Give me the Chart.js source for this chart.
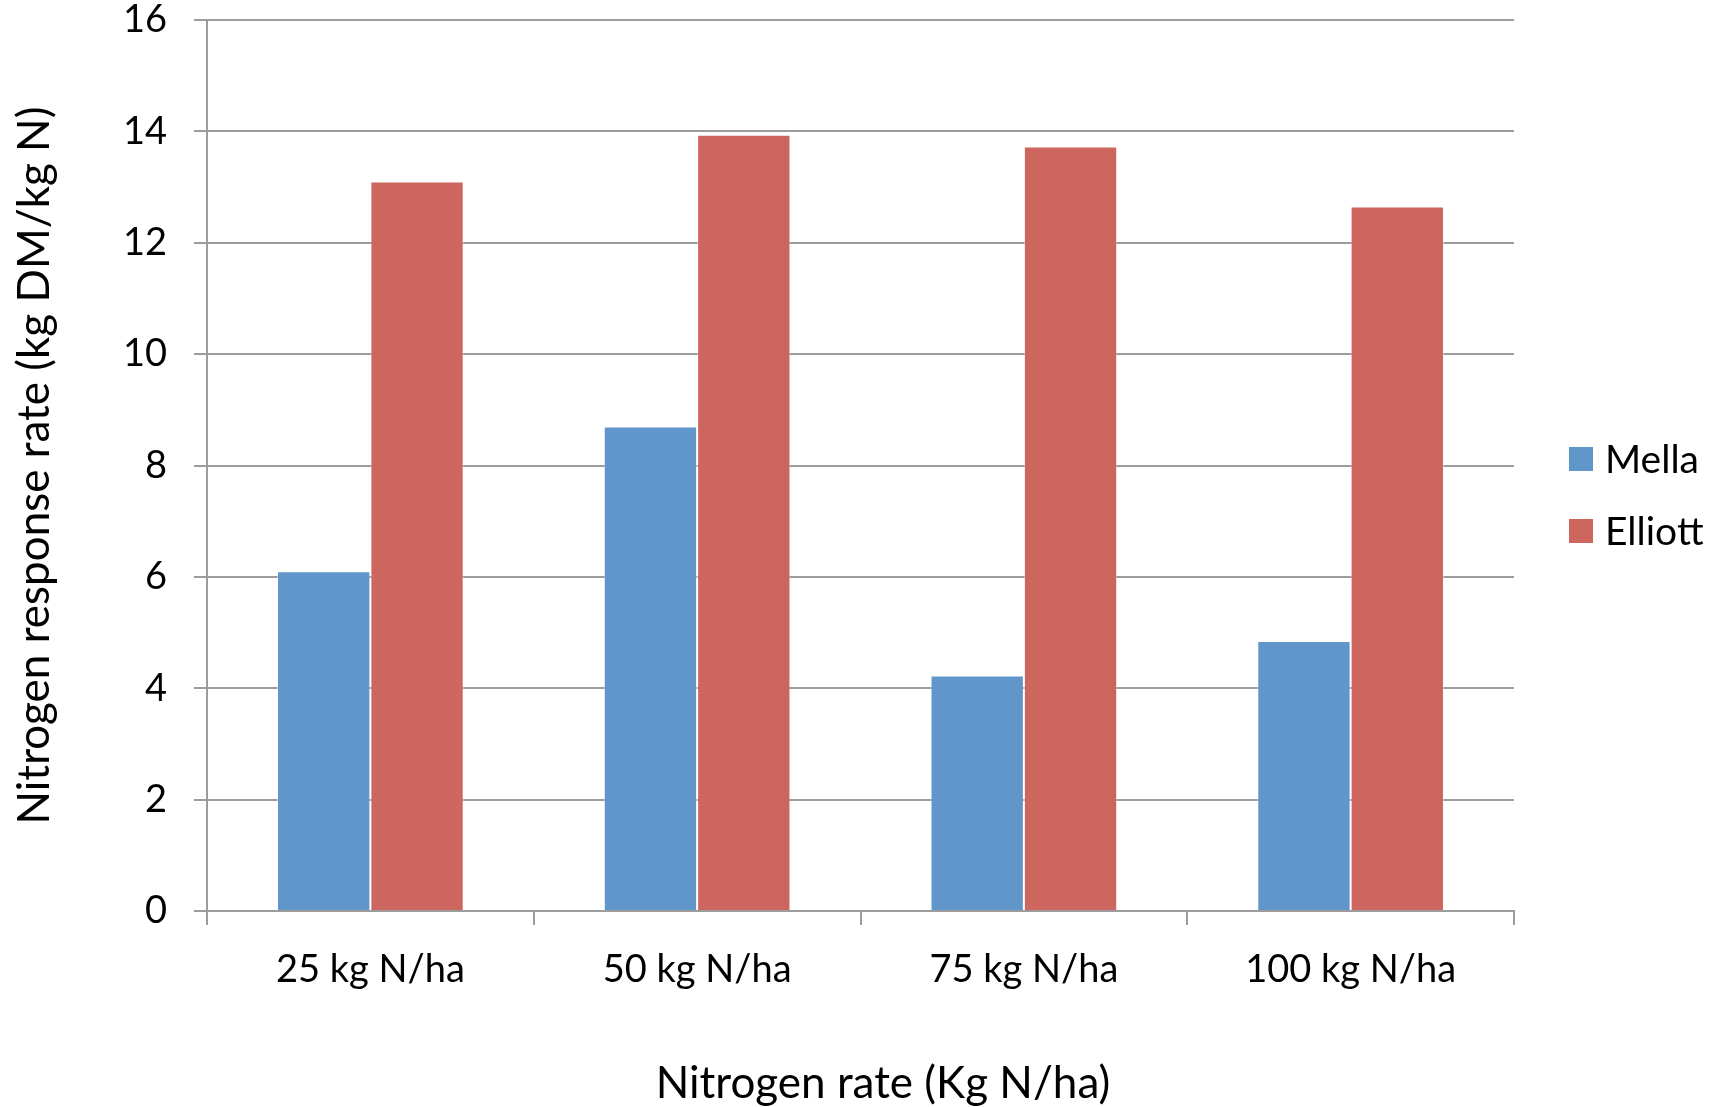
<!DOCTYPE html>
<html>
<head>
<meta charset="utf-8">
<script src="https://cdn.jsdelivr.net/npm/chart.js@4.4.1/dist/chart.umd.min.js"></script>
<style>
  html, body { margin: 0; padding: 0; background: #ffffff; }
  #wrap { width: 1721px; height: 1107px; position: relative; }
</style>
</head>
<body>
<div id="wrap"><canvas id="chart" width="1721" height="1107"></canvas></div>
<script>
// Nitrogen rates applied (x categories)
const categories = ['25 kg N/ha', '50 kg N/ha', '75 kg N/ha', '100 kg N/ha'];

// Nitrogen response rate, kg DM per kg N
const mellaValues = [6.1, 8.7, 4.23, 4.85];
const elliottValues = [13.1, 13.94, 13.73, 12.65];

const seriesNames = ['Mella', 'Elliott'];
const seriesColors = ['#6196CA', '#CD665F'];

// Y axis tick range
const yMin = 0;
const yMax = 16;
const yStep = 2;

const xTitle = 'Nitrogen rate (Kg N/ha)';
const yTitle = 'Nitrogen response rate (kg DM/kg N)';

const FONT = 'Lato, "Open Sans", "DejaVu Sans", sans-serif';
const TICK_SIZE = 38;
const TITLE_SIZE = 44;
const LEGEND_SIZE = 39;
const GRID = '#9c9c9c';

// Legend at the right of the plot, plus the x-axis title centred under the whole figure
const sideDecor = {
  id: 'sideDecor',
  afterDraw(chart) {
    const ctx = chart.ctx;
    const area = chart.chartArea;
    ctx.save();

    // legend
    const x0 = area.right + 55;
    const y0 = area.top + 439;
    ctx.font = LEGEND_SIZE + 'px ' + FONT;
    ctx.textBaseline = 'middle';
    ctx.textAlign = 'left';
    chart.data.datasets.forEach((ds, i) => {
      const cy = y0 + i * 72;
      ctx.fillStyle = ds.backgroundColor;
      ctx.fillRect(x0, cy - 12, 24, 24);
      ctx.fillStyle = '#000000';
      ctx.fillText(ds.label, x0 + 36, cy + 1);
    });

    // x-axis title
    ctx.font = TITLE_SIZE + 'px ' + FONT;
    ctx.textAlign = 'center';
    ctx.textBaseline = 'middle';
    ctx.fillStyle = '#000000';
    ctx.fillText(xTitle, area.left + 676, 1084);

    ctx.restore();
  }
};

new Chart(document.getElementById('chart'), {
  type: 'bar',
  data: {
    labels: categories,
    datasets: [
      { label: seriesNames[0], data: mellaValues, backgroundColor: seriesColors[0],
        borderColor: 'rgba(255,255,255,0.45)', borderWidth: 1 },
      { label: seriesNames[1], data: elliottValues, backgroundColor: seriesColors[1],
        borderColor: 'rgba(255,255,255,0.45)', borderWidth: 1 }
    ]
  },
  options: {
    responsive: false,
    animation: false,
    devicePixelRatio: 1,
    layout: { padding: { left: 0, top: 20, right: 207, bottom: 0 } },
    plugins: {
      legend: { display: false },
      tooltip: { enabled: false },
      title: { display: false }
    },
    datasets: {
      bar: { categoryPercentage: 0.5714, barPercentage: 1.0 }
    },
    scales: {
      x: {
        grid: {
          offset: true,
          drawOnChartArea: false,
          drawTicks: true,
          tickLength: 14,
          color: GRID,
          lineWidth: 2
        },
        border: { display: true, color: GRID, width: 2 },
        ticks: {
          color: '#000000',
          font: { family: FONT, size: TICK_SIZE },
          padding: 22,
          maxRotation: 0
        },
        title: { display: false },
        afterFit(scale) {
          scale.height = 196;
          scale.paddingLeft = 0;
          scale.paddingRight = 0;
        }
      },
      y: {
        min: yMin,
        max: yMax,
        ticks: {
          stepSize: yStep,
          color: '#000000',
          font: { family: FONT, size: TICK_SIZE },
          padding: 27
        },
        grid: {
          drawOnChartArea: true,
          drawTicks: true,
          tickLength: 13,
          color: GRID,
          lineWidth: 2
        },
        border: { display: true, color: GRID, width: 2 },
        title: {
          display: true,
          text: yTitle,
          color: '#000000',
          font: { family: FONT, size: TITLE_SIZE, lineHeight: 1.0 },
          padding: { top: 13, bottom: 0 }
        },
        afterFit(scale) {
          scale.width = 207;
          scale.paddingTop = 0;
          scale.paddingBottom = 0;
        }
      }
    }
  },
  plugins: [sideDecor]
});
</script>
</body>
</html>
